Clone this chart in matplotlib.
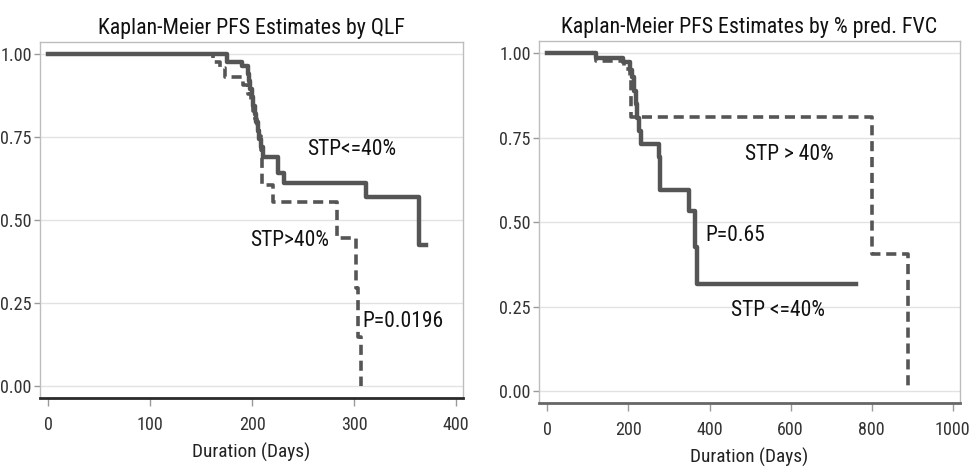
import matplotlib
matplotlib.use("Agg")
import matplotlib.pyplot as plt
from matplotlib import font_manager
from matplotlib.font_manager import FontProperties
from matplotlib.textpath import TextPath

# pick the narrowest suitable font available
entries = font_manager.fontManager.ttflist
narrow = None
for pref in ['Liberation Sans Narrow', 'Roboto Condensed', 'Open Sans Condensed', 'Noto Sans Condensed']:
    for f in entries:
        if f.name == pref and f.weight in (400, 'normal', 'regular') and f.style == 'normal':
            narrow = f.fname
            break
    if narrow:
        break
if narrow is None:
    for f in entries:
        fn = f.fname.lower()
        if ('condensed' in fn or 'narrow' in fn) and 'bold' not in fn and 'oblique' not in fn \
                and 'italic' not in fn and 'light' not in fn and 'mono' not in fn and 'serif' not in f.name.lower():
            narrow = f.fname
            break
if narrow is None:
    names = {f.name for f in entries}
    fam = 'Liberation Sans' if 'Liberation Sans' in names else 'DejaVu Sans'
    FP = FontProperties(family=fam)
else:
    FP = FontProperties(fname=narrow)

def fit(s, target_px, boost=1.0):
    w = TextPath((0, 0), s, size=10, prop=FP).get_extents().width * 100 / 72
    p = FP.copy()
    p.set_size(10 * target_px / w * boost)
    return p

# ---------------- Data ----------------
# Left panel: PFS by QLF
qlf_le40_t = [0, 175, 190, 196, 197, 198, 200, 201, 202.5, 204, 205.5, 207, 208.5, 211, 225, 231, 311.6, 364, 371]
qlf_le40_s = [1.0, 0.978, 0.965, 0.94, 0.918, 0.895, 0.87, 0.845, 0.82, 0.795, 0.77, 0.745, 0.72, 0.691, 0.641, 0.611, 0.569, 0.425, 0.425]
qlf_gt40_t = [0, 162, 168.6, 173.5, 191, 196.5, 199, 201, 203, 205, 207, 208.5, 209.5, 221, 283, 302, 304.4, 307, 307]
qlf_gt40_s = [1.0, 0.978, 0.958, 0.932, 0.907, 0.88, 0.855, 0.83, 0.805, 0.78, 0.755, 0.711, 0.606, 0.556, 0.445, 0.297, 0.148, 0.0, 0.0]

# Right panel: PFS by % pred. FVC
fvc_le40_t = [0, 121, 187, 203, 208, 213, 218, 222, 227, 230, 275, 279, 349, 363.7, 369.5, 761]
fvc_le40_s = [1.0, 0.988, 0.975, 0.95, 0.929, 0.89, 0.85, 0.81, 0.77, 0.731, 0.693, 0.595, 0.532, 0.425, 0.318, 0.318]
fvc_gt40_t = [0, 121, 188, 204, 207, 800, 890.5, 890.5]
fvc_gt40_s = [1.0, 0.978, 0.955, 0.93, 0.812, 0.405, 0.0, 0.0]

titles = ["Kaplan-Meier PFS Estimates by QLF", "Kaplan-Meier PFS Estimates by % pred. FVC"]
xlabel = "Duration (Days)"
yticks = [0.0, 0.25, 0.5, 0.75, 1.0]
yticklabels = ["0.00", "0.25", "0.50", "0.75", "1.00"]
xticks_left = [0, 100, 200, 300, 400]
xticks_right = [0, 200, 400, 600, 800, 1000]

LINE = '#555555'
TXT = '#111111'
W, H = 971, 474
fig = plt.figure(figsize=(W / 100, H / 100), dpi=100)
fig.patch.set_facecolor('white')

tick_fp = fit("1.00", 24, boost=1.22)
xlab_fp = fit(xlabel, 98, boost=1.18)
ann_fp = fit("STP<=40%", 76, boost=1.15)

def style(ax, xticks, xlim, bottom_color):
    ax.set_xlim(*xlim)
    ax.set_ylim(-0.036, 1.037)
    ax.set_yticks(yticks)
    ax.set_yticklabels(yticklabels, fontproperties=tick_fp, color='#333333')
    ax.set_xticks(xticks)
    ax.set_xticklabels([str(v) for v in xticks], fontproperties=tick_fp, color='#333333')
    ax.grid(axis='y', color='#e2e2e2', lw=1)
    ax.grid(axis='x', visible=False)
    ax.set_axisbelow(True)
    for s in ['top', 'right', 'left']:
        ax.spines[s].set_color('#bdbdbd')
        ax.spines[s].set_linewidth(1)
    ax.spines['bottom'].set_color(bottom_color)
    ax.spines['bottom'].set_linewidth(2)
    ax.tick_params(axis='y', direction='out', length=4, width=1, color='#9a9a9a', pad=2)
    ax.tick_params(axis='x', direction='out', length=6, width=1, color='#9a9a9a', pad=7)
    ax.set_xlabel(xlabel, fontproperties=xlab_fp, color='#222222', labelpad=6)

ax1 = fig.add_axes([40 / W, (H - 398) / H, (463 - 40) / W, (398 - 42) / H])
ax1.step(qlf_le40_t, qlf_le40_s, where='post', color=LINE, lw=3.2)
ax1.step(qlf_gt40_t, qlf_gt40_s, where='post', color=LINE, lw=2.6, ls=(0, (2.8, 1.6)))
style(ax1, xticks_left, (-8.1, 407), '#2a2a2a')
ax1.set_title(titles[0], fontproperties=fit(titles[0], 277, boost=1.1), color=TXT, pad=6)
ax1.text(254, 0.712, "STP<=40%", fontproperties=ann_fp, va='center', ha='left', color=TXT)
ax1.text(198, 0.44, "STP>40%", fontproperties=ann_fp, va='center', ha='left', color=TXT)
ax1.text(308.7, 0.194, "P=0.0196", fontproperties=ann_fp, va='center', ha='left', color=TXT)

ax2 = fig.add_axes([539 / W, (H - 403) / H, (960 - 539) / W, (403 - 41) / H])
ax2.step(fvc_le40_t, fvc_le40_s, where='post', color=LINE, lw=3.2)
ax2.step(fvc_gt40_t, fvc_gt40_s, where='post', color=LINE, lw=2.6, ls=(0, (2.8, 1.6)))
style(ax2, xticks_right, (-20.7, 1018), '#666666')
ax2.set_title(titles[1], fontproperties=fit(titles[1], 340, boost=1.1), color=TXT, pad=6)
ax2.text(487, 0.702, "STP > 40%", fontproperties=ann_fp, va='center', ha='left', color=TXT)
ax2.text(391, 0.46, "P=0.65", fontproperties=ann_fp, va='center', ha='left', color=TXT)
ax2.text(452, 0.237, "STP <=40%", fontproperties=ann_fp, va='center', ha='left', color=TXT)

fig.savefig("out.png", dpi=100)
